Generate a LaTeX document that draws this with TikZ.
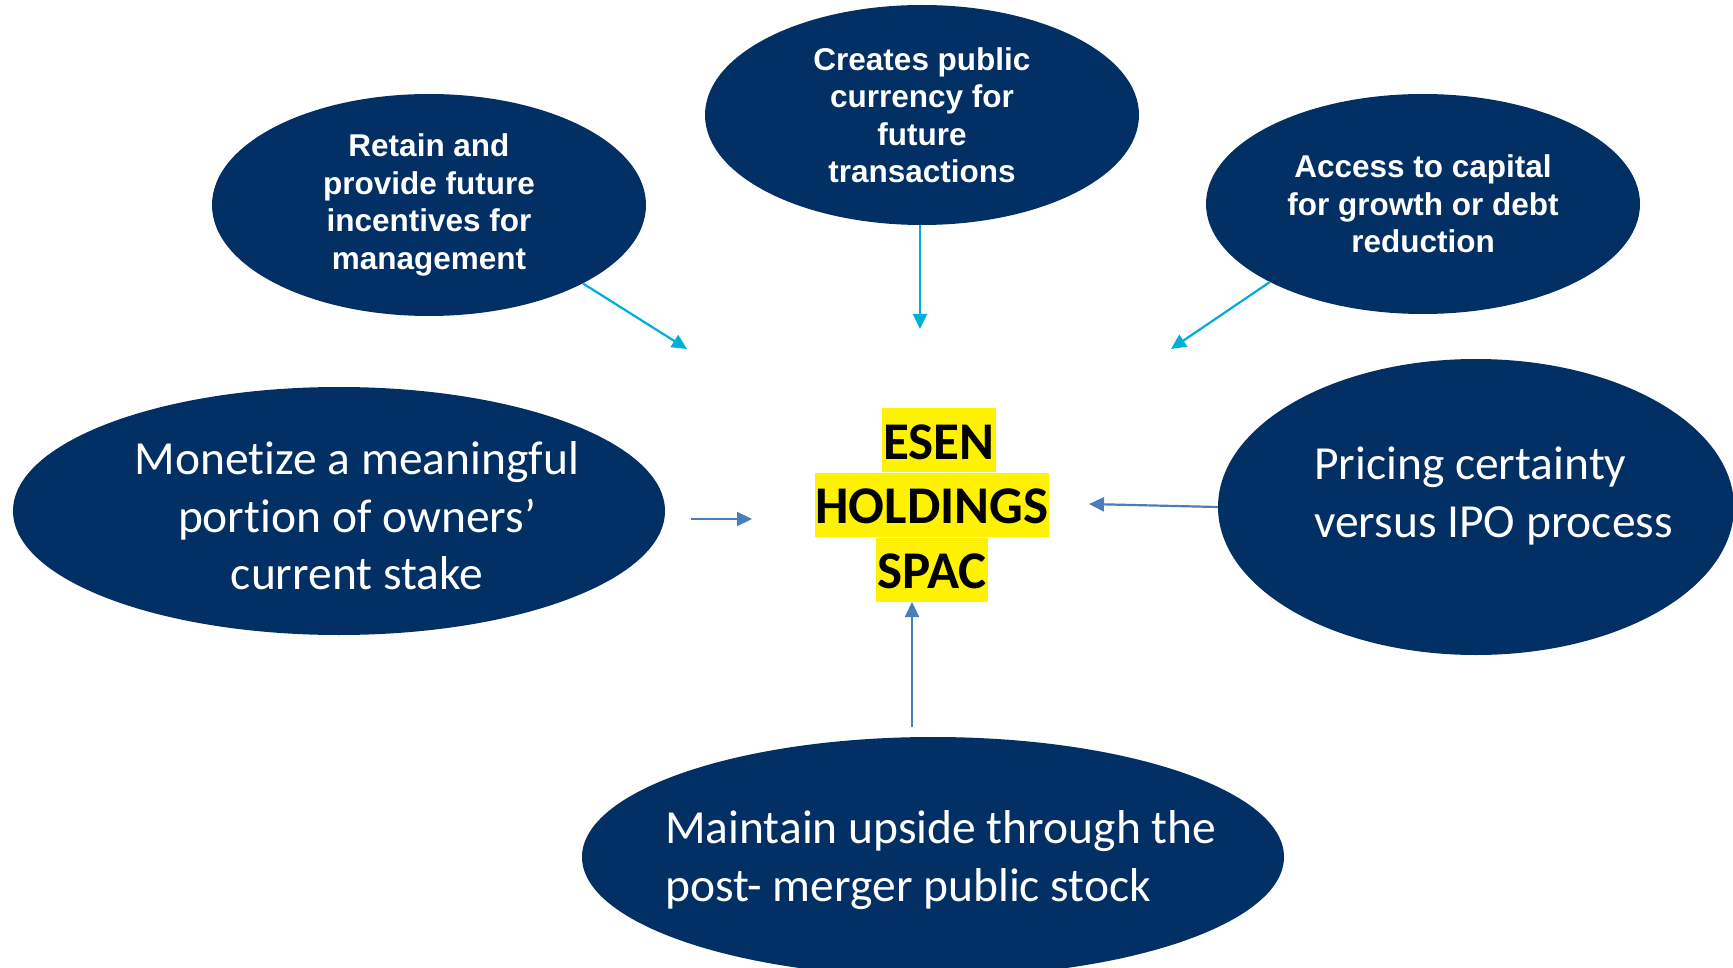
\documentclass[tikz,border=0pt]{standalone}
\usepackage{fontspec}
\setmainfont{Carlito}[Ligatures={NoCommon}]
\newfontfamily\arialfont{Liberation Sans}
\usetikzlibrary{arrows.meta,shapes.geometric}
\definecolor{navy}{RGB}{2,48,100}
\definecolor{cyanarrow}{RGB}{0,174,219}
\definecolor{bluearrow}{RGB}{74,126,187}
\begin{document}
\begin{tikzpicture}[x=1pt,y=-1pt,
  bubble/.style={ellipse, fill=navy, inner sep=0pt, draw=none},
  smalltext/.style={text=white, align=center, font=\arialfont\bfseries\fontsize{31.5}{37.5}\selectfont},
  bigtext/.style={text=white, inner sep=0pt, font=\fontsize{47.5}{57.5}\selectfont},
  hlbox/.style={fill=yellow, text=black, font=\bfseries\fontsize{53}{64}\selectfont, inner xsep=1pt, inner ysep=0pt, text height=51pt, text depth=13pt},
  toparrow/.style={draw=cyanarrow, line width=2.2pt, -{Triangle[length=15pt,width=14pt]}},
  sidearrow/.style={draw=bluearrow, line width=2.2pt, -{Triangle[length=15pt,width=14pt]}}]
\clip (0,0) rectangle (1733,968);
\useasboundingbox (0,0) rectangle (1733,968);

% small bubbles
\node[bubble, smalltext, minimum width=434pt, minimum height=222pt] (retain) at (429,205)
  {Retain and\\provide future\\incentives for\\management};
\node[bubble, smalltext, minimum width=434pt, minimum height=220pt] (creates) at (922,115)
  {Creates public\\currency for\\future\\transactions};
\node[bubble, smalltext, minimum width=434pt, minimum height=220pt] (access) at (1423,204)
  {Access to capital\\for growth or debt\\reduction};

% big bubbles
\node[bubble, minimum width=652pt, minimum height=248pt] (monetize) at (339,511) {};
\node[bigtext, align=center] (monetizet) at (357,516)
  {Monetize a meaningful\\portion of owners’\\current stake};
\node[bubble, minimum width=516pt, minimum height=296pt] (pricing) at (1476,507) {};
\node[bigtext, align=left, anchor=west] (pricingt) at (1314,496)
  {Pricing certainty\\versus IPO process};
\node[bubble, minimum width=702pt, minimum height=240pt] (maintain) at (933,857) {};
\node[bigtext, align=left, anchor=west] (maintaint) at (665,860)
  {Maintain upside through the\\post- merger public stock};

% centre
\node[hlbox] (esen) at (939,440) {ESEN\ };
\node[hlbox] (holdings) at (932,504.5) {HOLDINGS};
\node[hlbox] (spac) at (932,569.5) {SPAC};

% arrows
\coordinate (t1) at (687,349);
\coordinate (t2) at (920,329);
\coordinate (t3) at (1171,349);
\coordinate (m1) at (691,519);
\coordinate (m2) at (752,519);
\coordinate (p2) at (1089,504);
\coordinate (b1) at (912,727);
\coordinate (b2) at (912,602);
\draw[toparrow] (retain.-27) -- (t1);
\draw[toparrow] (creates.south -| t2) -- (t2);
\draw[toparrow] (access.-153) -- (t3);
\draw[sidearrow] (m1) -- (m2);
\draw[sidearrow] (pricing.west) -- (p2);
\draw[sidearrow] (b1) -- (b2);
\end{tikzpicture}
\end{document}
